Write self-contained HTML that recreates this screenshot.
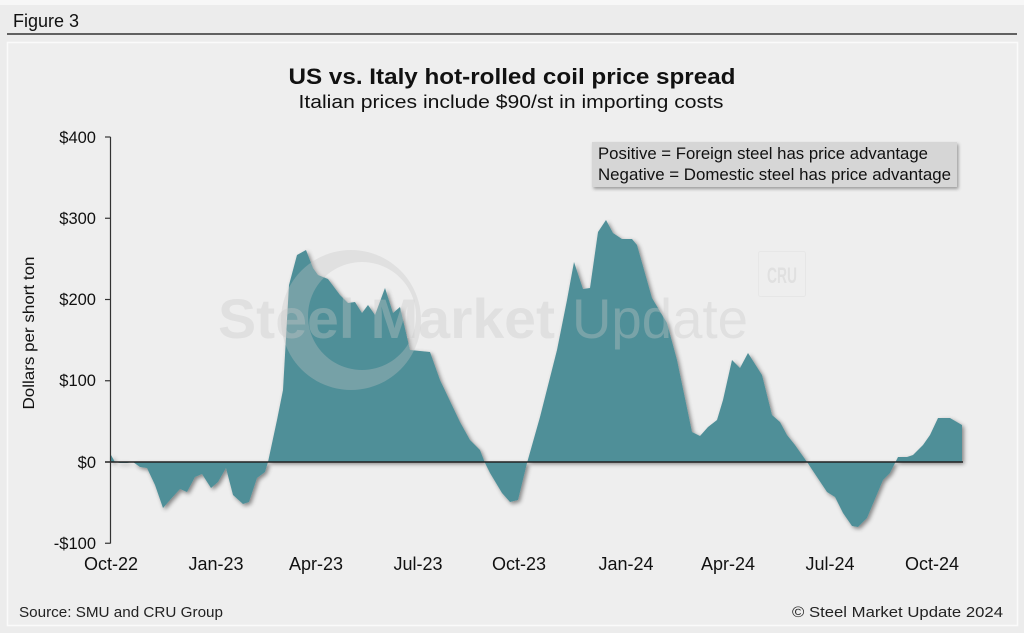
<!DOCTYPE html>
<html>
<head>
<meta charset="utf-8">
<style>
  html,body{margin:0;padding:0;}
  body{width:1024px;height:633px;overflow:hidden;background:#ececec;}
  svg{display:block;}
  text{font-family:"Liberation Sans", Arial, sans-serif;}
</style>
</head>
<body>
<svg width="1024" height="633" viewBox="0 0 1024 633" xmlns="http://www.w3.org/2000/svg">
  <defs>
    <filter id="sh" x="-10%" y="-10%" width="120%" height="120%">
      <feDropShadow dx="2" dy="2" stdDeviation="2" flood-color="#000" flood-opacity="0.45"/>
    </filter>
    <filter id="sh2" x="-10%" y="-10%" width="120%" height="130%">
      <feDropShadow dx="1.5" dy="2" stdDeviation="1.5" flood-color="#000" flood-opacity="0.35"/>
    </filter>
  </defs>
  <!-- background -->
  <rect x="0" y="0" width="1024" height="633" fill="#ececec"/>
  <rect x="0" y="0" width="1024" height="5" fill="#f7f7f7"/>
  <text x="13" y="27" font-size="18" fill="#111">Figure 3</text>
  <line x1="7" y1="34" x2="1017" y2="34" stroke="#333" stroke-width="1.5"/>
  <!-- panel -->
  <rect x="7.5" y="42.5" width="1010" height="583" fill="#eeeeee" stroke="#fafafa" stroke-width="1.5"/>

  <!-- title -->
  <text x="512" y="84" font-size="22" font-weight="bold" text-anchor="middle" fill="#111" textLength="447" lengthAdjust="spacingAndGlyphs">US vs. Italy hot-rolled coil price spread</text>
  <text x="511" y="108" font-size="18" text-anchor="middle" fill="#111" textLength="425" lengthAdjust="spacingAndGlyphs">Italian prices include $90/st in importing costs</text>

  <!-- area -->
  <path filter="url(#sh)" fill="#4f8f98" d="M111,455 L115,462 L120,463 L127,463 L133,462 L140,467 L147,468 L155,485 L163,508 L170,500 L180,489 L187,492 L195,477 L202,474 L211,488 L218,482 L226,468 L233,495 L243,504 L249,502 L257,478 L265,472 L268,462 L277,420 L283,390 L289,285 L297,255 L306,250 L313,268 L318,275 L328,279 L340,295 L348,303 L355,302 L362,313 L368,305 L375,315 L385,288 L393,313 L400,307 L410,350 L430,352 L440,380 L460,422 L470,440 L480,450 L485,463 L490,473 L502,493 L510,502 L518,500 L527,463 L540,417 L557,350 L567,300 L574,262 L583,289 L590,288 L598,232 L606,220 L613,233 L622,239 L632,239 L637,245 L652,298 L667,323 L677,360 L692,432 L700,436 L708,427 L717,420 L723,400 L732,360 L740,368 L748,353 L762,375 L772,415 L780,422 L787,435 L795,445 L807,462 L817,477 L827,492 L835,497 L843,513 L852,526 L858,527 L867,518 L883,480 L890,473 L898,457 L907,457 L913,455 L923,445 L930,435 L938,418 L950,418 L962,425 L962,462 L111,462 Z"/>

  <!-- watermark -->
  <g opacity="0.33" fill="#c4c4c4">
    <path fill-rule="evenodd" d="M351,250 a70,70 0 1,0 0.01,0 Z M362,262 a54,54 0 1,0 0.01,0 Z"/>
  </g>
  <g opacity="0.35" fill="#c8c8c8">
    <text x="218" y="338" font-size="56" font-weight="bold" textLength="337" lengthAdjust="spacingAndGlyphs">Steel Market</text>
    <text x="572" y="338" font-size="56" textLength="176" lengthAdjust="spacingAndGlyphs">Update</text>
  </g>
  <g opacity="0.6">
    <rect x="758.5" y="251.5" width="47" height="45" rx="2" fill="none" stroke="#e2e2e2" stroke-width="1"/>
    <text x="782" y="283" font-size="22" font-weight="bold" text-anchor="middle" fill="#d8d8d8" textLength="30" lengthAdjust="spacingAndGlyphs">CRU</text>
  </g>

  <!-- zero line -->
  <line x1="105" y1="462" x2="963" y2="462" stroke="#222" stroke-width="1.5"/>
  <!-- y axis -->
  <line x1="110.5" y1="137" x2="110.5" y2="543.5" stroke="#333" stroke-width="1.2"/>
  <g stroke="#333" stroke-width="1.2">
    <line x1="105" y1="137" x2="110.5" y2="137"/>
    <line x1="105" y1="218.25" x2="110.5" y2="218.25"/>
    <line x1="105" y1="299.5" x2="110.5" y2="299.5"/>
    <line x1="105" y1="380.75" x2="110.5" y2="380.75"/>
    <line x1="105" y1="543.25" x2="110.5" y2="543.25"/>
  </g>
  <g font-size="16.5" fill="#111" text-anchor="end">
    <text x="96" y="143">$400</text>
    <text x="96" y="224">$300</text>
    <text x="96" y="305">$200</text>
    <text x="96" y="386">$100</text>
    <text x="96" y="468">$0</text>
    <text x="96" y="549">-$100</text>
  </g>
  <text transform="translate(34,333) rotate(-90)" font-size="16" fill="#111" text-anchor="middle" textLength="153" lengthAdjust="spacingAndGlyphs">Dollars per short ton</text>

  <!-- x labels -->
  <g font-size="18" fill="#111" text-anchor="middle">
    <text x="111" y="570">Oct-22</text>
    <text x="216" y="570">Jan-23</text>
    <text x="316" y="570">Apr-23</text>
    <text x="418" y="570">Jul-23</text>
    <text x="519" y="570">Oct-23</text>
    <text x="626" y="570">Jan-24</text>
    <text x="728" y="570">Apr-24</text>
    <text x="830" y="570">Jul-24</text>
    <text x="932" y="570">Oct-24</text>
  </g>

  <!-- legend box -->
  <rect x="592" y="142" width="365" height="45" fill="#d6d6d6" filter="url(#sh2)"/>
  <g font-size="16.5" fill="#111">
    <text x="598" y="159" textLength="330" lengthAdjust="spacingAndGlyphs">Positive = Foreign steel has price advantage</text>
    <text x="598" y="180" textLength="353" lengthAdjust="spacingAndGlyphs">Negative = Domestic steel has price advantage</text>
  </g>

  <!-- footer -->
  <text x="19" y="617" font-size="15" fill="#222" textLength="204" lengthAdjust="spacingAndGlyphs">Source: SMU and CRU Group</text>
  <text x="1003" y="617" font-size="15" fill="#222" text-anchor="end" textLength="211" lengthAdjust="spacingAndGlyphs">© Steel Market Update 2024</text>
</svg>
</body>
</html>
